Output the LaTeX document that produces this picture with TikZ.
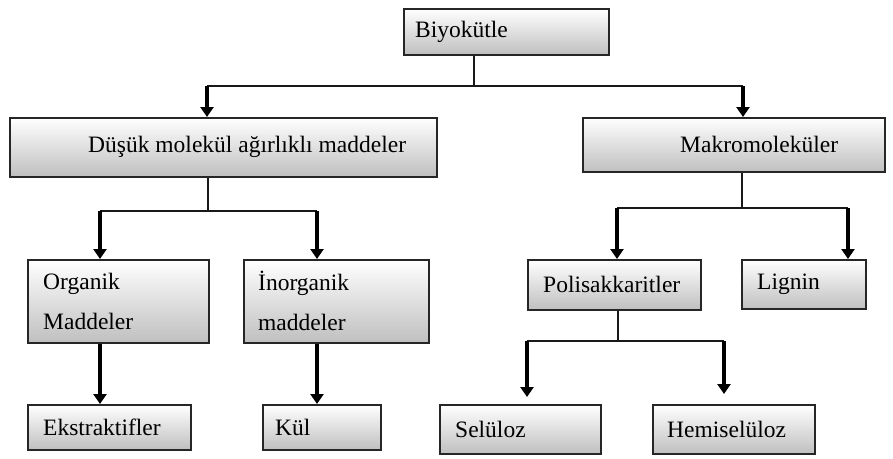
\documentclass[tikz,border=0pt]{standalone}
\usepackage{fontspec}
\setmainfont{Liberation Serif}
\usetikzlibrary{arrows.meta}
\begin{document}
\begin{tikzpicture}[x=1pt,y=-1pt,
 box/.style={draw=black!85, line width=1.7pt, top color=white, bottom color=black!25, anchor=north west, inner sep=0pt, rectangle},
 lbl/.style={anchor=west, inner sep=0pt, font=\fontsize{23.5}{40}\selectfont, align=left, text=black},
 thinln/.style={line width=1.8pt, draw=black!90},
 arr/.style={line width=3.6pt, -{Triangle[width=13pt,length=10pt]}},
]
\useasboundingbox (0,0) rectangle (893,458);
% boxes
\node[box, minimum width=205pt, minimum height=46pt, label={[lbl, xshift=12pt]west:Biyokütle}] (biyo) at (403,8) {};
\node[box, minimum width=427pt, minimum height=59pt, label={[lbl, xshift=79pt]west:Düşük molekül ağırlıklı maddeler}] (dusuk) at (9,117) {};
\node[box, minimum width=302pt, minimum height=54pt, label={[lbl, xshift=98pt]west:Makromoleküler}] (makro) at (582,117) {};
\node[box, minimum width=181pt, minimum height=83pt, label={[lbl, xshift=16pt]west:Organik\\Maddeler}] (organik) at (27,259) {};
\node[box, minimum width=185pt, minimum height=83pt, label={[lbl, xshift=15pt]west:İnorganik\\maddeler}] (inorg) at (243,259) {};
\node[box, minimum width=173pt, minimum height=50pt, label={[lbl, xshift=16pt]west:Polisakkaritler}] (poli) at (527,259) {};
\node[box, minimum width=124pt, minimum height=49pt, label={[lbl, xshift=16pt]west:Lignin}] (lignin) at (741,259) {};
\node[box, minimum width=163pt, minimum height=45pt, label={[lbl, xshift=16pt]west:Ekstraktifler}] (ekstr) at (27,404) {};
\node[box, minimum width=118pt, minimum height=45pt, label={[lbl, xshift=13pt]west:Kül}] (kul) at (262,404) {};
\node[box, minimum width=161pt, minimum height=49pt, label={[lbl, xshift=16pt]west:Selüloz}] (selu) at (439,404) {};
\node[box, minimum width=162pt, minimum height=49pt, label={[lbl, xshift=15pt]west:Hemiselüloz}] (hemi) at (652,404) {};
% level 1
\coordinate (jA) at (474,86);
\coordinate (aL) at (207,86);
\coordinate (aR) at (743,86);
\draw[thinln] (jA |- biyo.south) -- (jA);
\draw[thinln] (aL) -- (aR);
\draw[arr] (aL) -- (aL |- dusuk.north);
\draw[arr] (aR) -- (aR |- makro.north);
% left branch
\coordinate (jB) at (208,211);
\coordinate (bL) at (100,211);
\coordinate (bR) at (317,211);
\draw[thinln] (jB |- dusuk.south) -- (jB);
\draw[thinln] (bL) -- (bR);
\draw[arr] (bL) -- (bL |- organik.north);
\draw[arr] (bR) -- (bR |- inorg.north);
\draw[arr] (organik.south -| bL) -- (ekstr.north -| bL);
\draw[arr] (inorg.south -| bR) -- (kul.north -| bR);
% right branch
\coordinate (jC) at (742,208);
\coordinate (cL) at (617,208);
\coordinate (cR) at (848,208);
\draw[thinln] (jC |- makro.south) -- (jC);
\draw[thinln] (cL) -- (cR);
\draw[arr] (cL) -- (cL |- poli.north);
\draw[arr] (cR) -- (cR |- lignin.north);
% polisakkarit branch
\coordinate (jD) at (618,341);
\coordinate (dL) at (527,341);
\coordinate (dR) at (724,341);
\draw[thinln] (jD |- poli.south) -- (jD);
\draw[thinln] (dL) -- (dR);
\draw[arr, shorten >=7pt] (dL) -- (dL |- selu.north);
\draw[arr, shorten >=10pt] (dR) -- (dR |- hemi.north);
\end{tikzpicture}
\end{document}
